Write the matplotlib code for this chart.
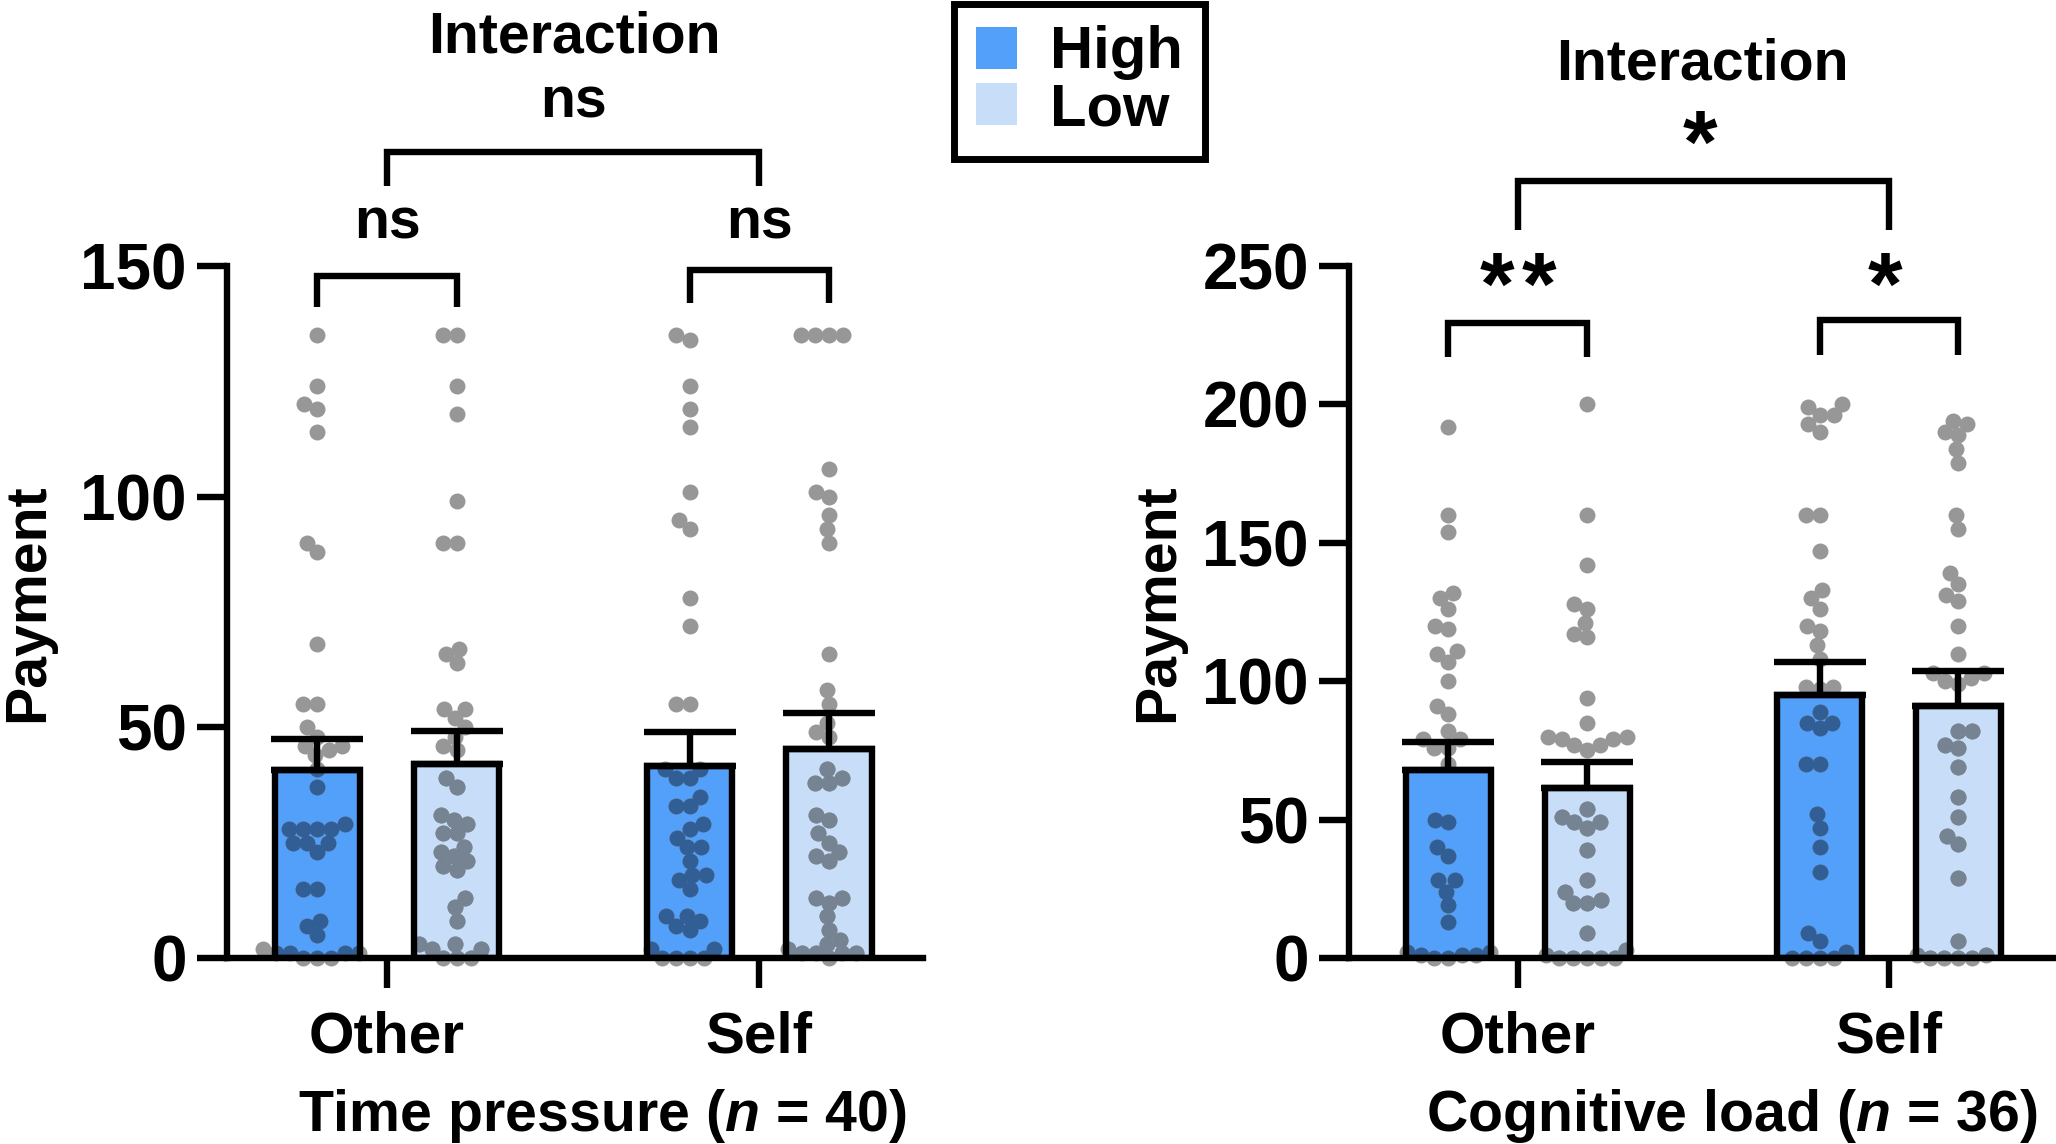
import numpy as np
import matplotlib
matplotlib.use('Agg')
import matplotlib.pyplot as plt
import matplotlib.transforms as mtransforms
from matplotlib.patches import Patch

plt.rcParams['font.family'] = ['Liberation Sans', 'DejaVu Sans']
plt.rcParams['font.weight'] = 'bold'
plt.rcParams['axes.labelweight'] = 'bold'
plt.rcParams['mathtext.fontset'] = 'custom'
plt.rcParams['mathtext.rm'] = 'Liberation Sans:bold'
plt.rcParams['mathtext.it'] = 'Liberation Sans:italic:bold'

# ---- data ----
groups = ['Other', 'Self']
levels = ['High', 'Low']

# Time pressure (n = 40)
tp_other_high = [135, 124, 120, 119, 114, 90, 88, 68, 55, 55, 50, 48, 46, 46, 45, 44,
                 41, 37, 29, 28, 28, 28, 28, 25, 25, 25, 23, 15, 15, 8, 7, 5,
                 2, 1, 1, 1, 1, 0, 0, 0]
tp_other_low = [135, 135, 124, 118, 99, 90, 90, 67, 66, 64, 54, 54, 52, 50, 48, 46, 45,
                39, 37, 31, 30, 29, 27, 27, 24, 23, 22, 21, 20, 19, 13, 11, 8,
                3, 3, 2, 2, 0, 0, 0]
tp_self_high = [135, 134, 124, 119, 115, 101, 95, 93, 78, 72, 55, 55, 41, 41, 39, 39,
                35, 33, 33, 29, 28, 26, 24, 24, 21, 18, 18, 17, 15, 9, 9, 8, 7, 6,
                2, 2, 0, 0, 0, 0]
tp_self_low = [135, 135, 135, 135, 106, 101, 100, 96, 93, 90, 66, 58, 55, 51, 49, 48,
               41, 39, 38, 38, 31, 30, 27, 25, 23, 22, 21, 13, 13, 12, 9, 6, 4, 3, 2,
               1, 1, 1, 1, 0]
tp_mean_high = [40.8, 41.6]
tp_mean_low = [42.1, 45.4]
tp_sem_high = [6.7, 7.3]
tp_sem_low = [7.0, 7.7]

# Cognitive load (n = 36)
cl_other_high = [192, 160, 154, 132, 130, 126, 120, 119, 111, 110, 107, 100, 91, 88,
                 82, 79, 79, 76, 76, 70, 50, 49, 40, 37, 28, 28, 24, 19, 13,
                 2, 2, 1, 1, 1, 0, 0]
cl_other_low = [200, 160, 142, 128, 126, 121, 117, 116, 94, 85, 80, 80, 79, 79, 77, 77,
                75, 54, 51, 49, 49, 47, 39, 28, 24, 21, 20, 20, 9, 3, 1, 0, 0, 0, 0, 0]
cl_self_high = [200, 199, 196, 196, 193, 190, 160, 160, 147, 133, 130, 126, 120, 118,
                113, 108, 98, 98, 97, 89, 85, 85, 83, 70, 70, 52, 47, 40, 31, 9, 6, 2,
                0, 0, 0, 0]
cl_self_low = [194, 193, 190, 189, 184, 179, 160, 155, 139, 135, 131, 129, 120, 110,
               103, 103, 101, 100, 99, 82, 82, 77, 76, 69, 58, 51, 44, 41, 29, 6, 1, 1,
               0, 0, 0, 0]
cl_mean_high = [68, 95]
cl_mean_low = [61.4, 91.2]
cl_sem_high = [10, 11.8]
cl_sem_low = [9.3, 12.4]

HIGH_C = '#53A0FA'
LOW_C = '#C8DEF8'
DOT_C = '#979797'
DOT_ON_HIGH = '#315E94'
DOT_ON_LOW = '#768392'
LW = 2.3
OFF = 0.187
BAR_W = 0.23
FS = 20.6

fig = plt.figure(figsize=(10.28, 5.72), dpi=200)
ax1 = fig.add_axes([0.1104, 0.1626, 0.3385, 0.6049])
ax2 = fig.add_axes([0.6561, 0.1626, 0.3439, 0.6049])


def swarm(ax, xc, vals, step_px=14.0):
    vals = np.asarray(vals, dtype=float)
    pts = ax.transData.transform(np.column_stack([np.full(len(vals), xc), vals]))
    x0 = pts[0, 0]
    xs = np.zeros(len(vals))
    placed = []
    for i in np.argsort(vals, kind='stable'):
        y = pts[i, 1]
        cands = [x0]
        for px, py in placed:
            dy = abs(py - y)
            if dy < step_px:
                dx = np.sqrt(step_px ** 2 - dy ** 2)
                cands += [px - dx, px + dx]
        cands.sort(key=lambda c: abs(c - x0))
        for c in cands:
            if all((c - px) ** 2 + (y - py) ** 2 >= step_px ** 2 - 1e-6 for px, py in placed):
                break
        placed.append((c, y))
        xs[i] = c
    back = ax.transData.inverted().transform(np.column_stack([xs, pts[:, 1]]))
    return back[:, 0]


def bracket(ax, x0, x1, ytop, ybot):
    ax.plot([x0, x0, x1, x1], [ybot, ytop, ytop, ybot], color='black', lw=LW,
            clip_on=False, solid_joinstyle='miter', solid_capstyle='butt')


def panel(ax, ymax, yticks, data, means, sems, xlim):
    ax.set_xlim(*xlim)
    ax.set_ylim(0, ymax)
    x = np.arange(len(groups))
    for k, (lvl, col, dcol, sign) in enumerate([('High', HIGH_C, DOT_ON_HIGH, -1),
                                                 ('Low', LOW_C, DOT_ON_LOW, 1)]):
        xp = x + sign * OFF
        fills = ax.bar(xp, means[k], BAR_W, color=col, linewidth=0, zorder=1)
        ax.bar(xp, means[k], BAR_W, fill=False, edgecolor='black', linewidth=LW,
               joinstyle='miter', zorder=4)
        ax.errorbar(xp, means[k], yerr=[np.zeros(len(x)), sems[k]], fmt='none',
                    ecolor='black', elinewidth=LW, capsize=16.5, capthick=LW, zorder=5)
        for g in range(len(groups)):
            vals = data[k][g]
            xs = swarm(ax, xp[g], vals)
            ax.scatter(xs, vals, s=33, color=DOT_C, linewidths=0, zorder=3, clip_on=False)
            sc = ax.scatter(xs, vals, s=33, color=dcol, linewidths=0, zorder=3.5)
            sc.set_clip_path(fills[g])
    for s in ['top', 'right']:
        ax.spines[s].set_visible(False)
    for s in ['left', 'bottom']:
        ax.spines[s].set_linewidth(LW)
        ax.spines[s].set_zorder(6)
    ax.set_xticks(x)
    ax.set_xticklabels(groups)
    ax.set_yticks(yticks)
    ax.tick_params(axis='both', length=10.8, width=LW, direction='out')
    ax.tick_params(axis='x', pad=8, labelsize=21)
    ax.tick_params(axis='y', pad=3.6, labelsize=23)


panel(ax1, 150, [0, 50, 100, 150],
      [[tp_other_high, tp_self_high], [tp_other_low, tp_self_low]],
      [tp_mean_high, tp_mean_low], [tp_sem_high, tp_sem_low], (-0.43, 1.44))
panel(ax2, 250, [0, 50, 100, 150, 200, 250],
      [[cl_other_high, cl_self_high], [cl_other_low, cl_self_low]],
      [cl_mean_high, cl_mean_low], [cl_sem_high, cl_sem_low], (-0.455, 1.45))

# y labels and x titles
ax1.text(-0.247, 0.513, 'Payment', transform=ax1.transAxes, rotation=90,
         rotation_mode='anchor', ha='center', va='bottom', fontsize=FS)
ax2.text(-0.232, 0.513, 'Payment', transform=ax2.transAxes, rotation=90,
         rotation_mode='anchor', ha='center', va='bottom', fontsize=FS)
for ax, lab in [(ax1, 'Time pressure ($n$ = 40)'), (ax2, 'Cognitive load ($n$ = 36)')]:
    tr = mtransforms.blended_transform_factory(ax.transData, ax.transAxes)
    ax.text(0.577, -0.25, lab, transform=tr, ha='center', va='baseline', fontsize=FS)

# significance annotations, time pressure
bracket(ax1, -OFF, OFF, 147.8, 141.2)
bracket(ax1, 1 - OFF, 1 + OFF, 149.1, 142.0)
bracket(ax1, 0, 1, 174.7, 167.4)
for xx, yy, s in [(0, 155.9, 'ns'), (1, 155.9, 'ns'), (0.5, 182.1, 'ns'),
                  (0.503, 196.3, 'Interaction')]:
    ax1.text(xx, yy, s, ha='center', va='baseline', fontsize=FS, clip_on=False)

# significance annotations, cognitive load
bracket(ax2, -OFF, OFF, 229.4, 217.1)
bracket(ax2, 1 - OFF, 1 + OFF, 230.5, 217.7)
bracket(ax2, 0, 1, 280.7, 263.0)
ax2.text(0.496, 317.2, 'Interaction', ha='center', va='baseline', fontsize=FS, clip_on=False)
for xx, yy in [(-0.056, 232.6), (0.056, 232.6), (0.99, 232.6), (0.49, 284.0)]:
    ax2.text(xx, yy, '*', ha='center', va='baseline', fontsize=32, clip_on=False)

# legend
handles = [Patch(facecolor=HIGH_C, linewidth=0), Patch(facecolor=LOW_C, linewidth=0)]
leg = fig.legend(handles, levels, loc='upper left', bbox_to_anchor=(954 / 2056, 1 - 4 / 1144),
                 frameon=True, fancybox=False, edgecolor='black', framealpha=1,
                 borderaxespad=0, handlelength=0.7, handleheight=0.7,
                 handletextpad=0.55, labelspacing=0.03, borderpad=0.36, fontsize=21.5)
leg.get_frame().set_linewidth(2.5)

fig.savefig('out.png', dpi=200)
